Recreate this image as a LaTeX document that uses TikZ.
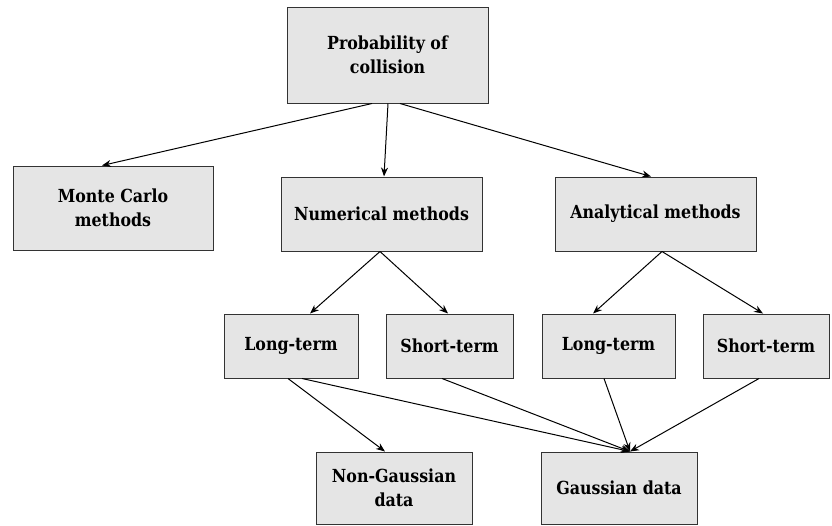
\documentclass[tikz,border=0pt]{standalone}
\usepackage{fontspec}
\setmainfont[FakeStretch=0.88]{DejaVu Serif}
\usetikzlibrary{arrows.meta}
\begin{document}
\begin{tikzpicture}[x=1pt,y=-1pt,
  box/.style={draw=black!80,fill=black!10,line width=1pt,inner sep=0pt,
    font=\bfseries\fontsize{18}{24}\selectfont,align=center},
  conn/.style={-{Stealth[length=9pt,width=7pt]},line width=1pt}]
\useasboundingbox (0,0) rectangle (832,525);
\node[box,minimum width=201,minimum height=96] (top) at (387.5,55) {Probability of\\collision};
\node[box,minimum width=200,minimum height=84] (mc) at (113,208) {Monte Carlo\\methods};
\node[box,minimum width=201,minimum height=74] (num) at (381.5,214) {Numerical methods};
\node[box,minimum width=201,minimum height=74] (ana) at (655.5,214) {Analytical methods};
\node[box,minimum width=134,minimum height=64] (lt1) at (291,346) {Long-term};
\node[box,minimum width=127,minimum height=64] (st1) at (449.5,346) {Short-term};
\node[box,minimum width=133,minimum height=64] (lt2) at (608.5,346) {Long-term};
\node[box,minimum width=126,minimum height=64] (st2) at (766,346) {Short-term};
\node[box,minimum width=156,minimum height=72] (ng) at (394,488) {Non-Gaussian\\data};
\node[box,minimum width=156,minimum height=72] (ga) at (619,488) {Gaussian data};

\draw[conn] ([xshift=-15.5]top.south) -- ([xshift=-11]mc.north);
\draw[conn] ([xshift=0.5]top.south) -- ([xshift=2.5]num.north);
\draw[conn] ([xshift=12.5]top.south) -- ([xshift=-4.5]ana.north);
\draw[conn] ([xshift=-1.5]num.south) -- ([xshift=19]lt1.north);
\draw[conn] ([xshift=-1.5]num.south) -- ([xshift=-1.5]st1.north);
\draw[conn] ([xshift=6.5]ana.south) -- ([xshift=-15.5]lt2.north);
\draw[conn] ([xshift=6.5]ana.south) -- ([xshift=-3]st2.north);
\draw[conn] ([xshift=-3]lt1.south) -- ([xshift=-9]ng.north);
\draw[conn] ([xshift=11]lt1.south) -- ([xshift=11]ga.north);
\draw[conn] ([xshift=-7.5]st1.south) -- ([xshift=11]ga.north);
\draw[conn] ([xshift=-4.5]lt2.south) -- ([xshift=11]ga.north);
\draw[conn] ([xshift=-7]st2.south) -- ([xshift=11]ga.north);
\end{tikzpicture}
\end{document}
